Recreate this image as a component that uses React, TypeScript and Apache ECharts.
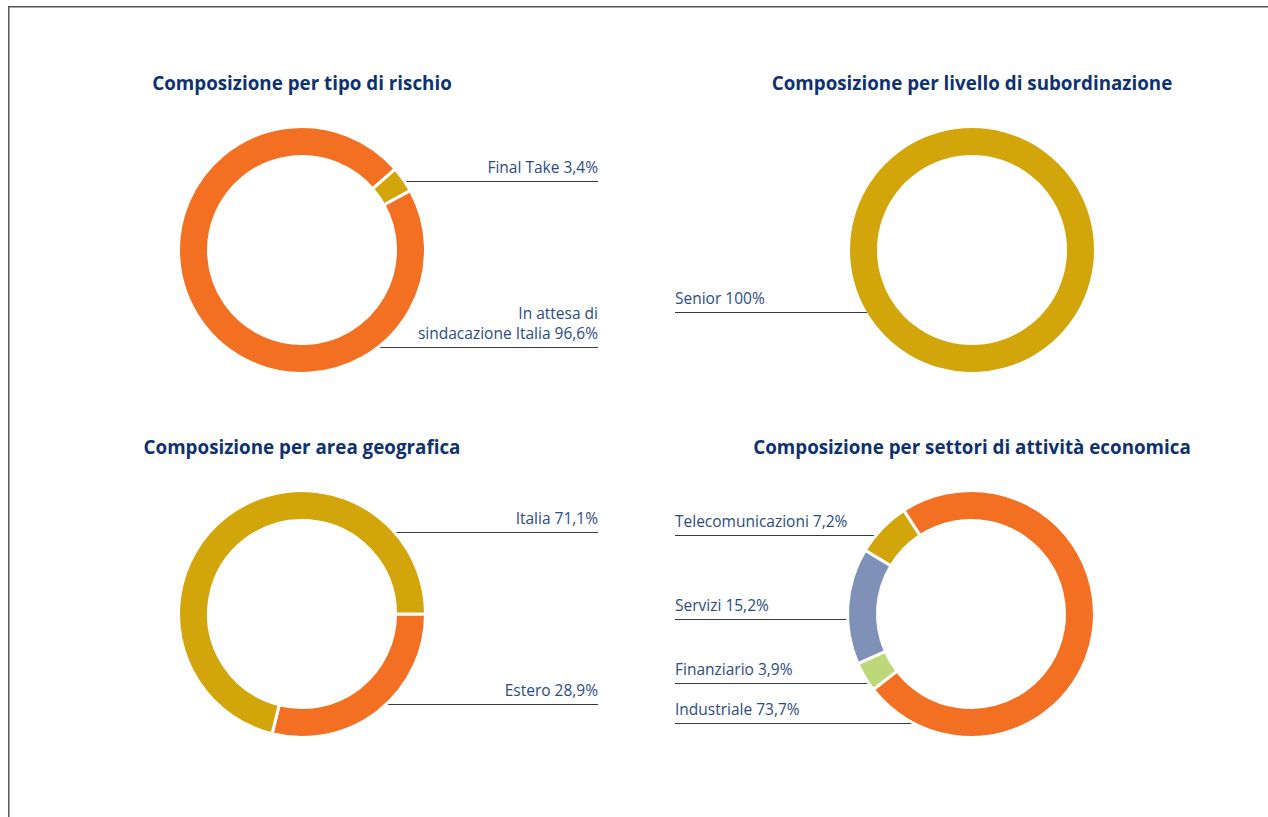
import React, { useEffect, useRef } from 'react';
import * as echarts from 'echarts';

// ---- Data ----
const riskTitle = 'Composizione per tipo di rischio';
const riskNames = ['Final Take', 'In attesa di\nsindacazione Italia'];
const riskValues = [3.4, 96.6];

const subTitle = 'Composizione per livello di subordinazione';
const subNames = ['Senior'];
const subValues = [100];

const geoTitle = 'Composizione per area geografica';
const geoNames = ['Estero', 'Italia'];
const geoValues = [28.9, 71.1];

const sectorTitle = 'Composizione per settori di attività economica';
const sectorNames = ['Industriale', 'Finanziario', 'Servizi', 'Telecomunicazioni'];
const sectorValues = [73.7, 3.9, 15.2, 7.2];

// ---- Styles / layout ----
const ORANGE = '#F37022';
const GOLD = '#D2A50A';
const BLUE = '#7F91B6';
const GREEN = '#BDD879';
const TITLE = '#0E3270';
const LABEL = '#2B4B86';
const LINE = '#3a3a3a';
const FONT = 'Open Sans';

const R_OUT = 122;
const R_IN = 95;

const fmt = (v: number) => (Number.isInteger(v) ? String(v) : v.toFixed(1).replace('.', ','));

function makePie(
  names: string[],
  values: number[],
  colors: string[],
  center: [number, number],
  startAngle: number,
  side: 'left' | 'right',
  edgeX: number,
  lineYs: number[],
  border: number
) {
  const [cx, cy] = center;
  return {
    type: 'pie',
    center,
    radius: [R_IN - border / 2, R_OUT + border / 2],
    startAngle,
    clockwise: true,
    avoidLabelOverlap: false,
    silent: true,
    emphasis: { disabled: true },
    itemStyle: { borderColor: '#fff', borderWidth: border },
    label: {
      show: true,
      position: 'outside',
      formatter: (p: any) => `${p.name} ${fmt(p.value)}%`,
      color: LABEL,
      fontFamily: FONT,
      fontSize: 15.5,
      lineHeight: 20,
    },
    labelLine: { show: true, length: 5, length2: 5, lineStyle: { color: LINE, width: 1 } },
    labelLayout: (params: any) => {
      const ly = lineYs[params.dataIndex];
      const dy = ly - cy;
      const dx = Math.sqrt(Math.max(0, R_OUT * R_OUT - dy * dy));
      const xs = side === 'right' ? cx + dx : cx - dx;
      return {
        x: edgeX,
        y: ly - 4,
        align: side === 'right' ? 'right' : 'left',
        verticalAlign: 'bottom',
        labelLinePoints: [
          [xs, ly + 0.5],
          [xs, ly + 0.5],
          [edgeX, ly + 0.5],
        ],
      };
    },
    data: names.map((n, i) => ({ name: n, value: values[i], itemStyle: { color: colors[i] } })),
  };
}

function makeTitle(text: string, x: number, y: number) {
  return {
    text,
    left: x,
    top: y - 12,
    padding: 0,
    textAlign: 'center',
    textStyle: { color: TITLE, fontFamily: FONT, fontWeight: 'bold', fontSize: 18.8, lineHeight: 24 },
  };
}

export default function App() {
  const ref = useRef<HTMLDivElement>(null);
  useEffect(() => {
    if (!ref.current) return;
    const chart = echarts.init(ref.current, undefined, { renderer: 'svg' });
    chart.setOption({
      animation: false,
      backgroundColor: '#fff',
      title: [
        makeTitle(riskTitle, 302, 83),
        makeTitle(subTitle, 972, 83),
        makeTitle(geoTitle, 302, 447),
        makeTitle(sectorTitle, 972, 447),
      ],
      graphic: [
        {
          type: 'rect',
          silent: true,
          shape: { x: 8.75, y: 6.75, width: 1400, height: 1000 },
          style: { fill: 'none', stroke: '#555', lineWidth: 1.5 },
        },
      ],
      series: [
        makePie(riskNames, riskValues, [GOLD, ORANGE], [302, 250], 41, 'right', 598, [181, 347], 3),
        makePie(subNames, subValues, [GOLD], [972, 250], 90, 'left', 675, [312], 0),
        makePie(geoNames, geoValues, [ORANGE, GOLD], [302, 614], 0, 'right', 598, [704, 532], 3),
        makePie(
          sectorNames,
          sectorValues,
          [ORANGE, GREEN, BLUE, GOLD],
          [971, 614],
          123,
          'left',
          675,
          [723, 683, 619, 535],
          3
        ),
      ],
    });
    return () => chart.dispose();
  }, []);
  return (
    <div
      ref={ref}
      style={{ position: 'fixed', left: 0, top: 0, width: 1268, height: 817 }}
    />
  );
}
